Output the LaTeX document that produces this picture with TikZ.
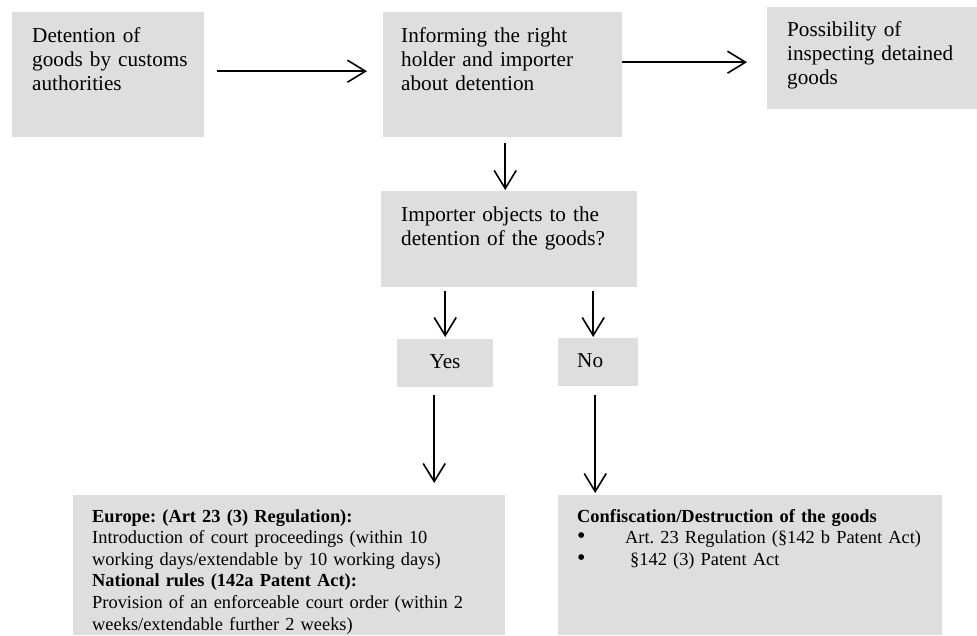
\documentclass[tikz,border=0pt]{standalone}
\usepackage{fontspec}
\setmainfont{Liberation Serif}
\usetikzlibrary{arrows.meta,calc}
\definecolor{boxgray}{RGB}{222,222,222}
\frenchspacing
\newcommand{\bigbul}{{\fontsize{24}{24}\selectfont •}}
\tikzset{
  box/.style={fill=boxgray, draw=none, inner sep=0pt, anchor=north west},
  bigtxt/.style={inner sep=0pt, anchor=base west, align=left, text width=300pt,
    font=\fontsize{21.2}{24.4}\selectfont\frenchspacing},
  smalltxt/.style={inner sep=0pt, anchor=base west, align=left, text width=420pt,
    font=\fontsize{18.4}{21.6}\selectfont\frenchspacing},
  arr/.style={line width=1.6pt, -{Straight Barb[length=18pt,width=22pt,line width=1.6pt]}}
}
\begin{document}
\begin{tikzpicture}[x=1pt,y=-1pt]
\clip (0,0) rectangle (977,635);
\fill[white] (0,0) rectangle (977,635);
% boxes
\node[box, minimum width=192pt, minimum height=125pt] (b1) at (12,12) {};
\node[box, minimum width=239pt, minimum height=125pt] (b2) at (383,12) {};
\node[box, minimum width=210pt, minimum height=102pt] (b3) at (767,7) {};
\node[box, minimum width=256pt, minimum height=96pt] (b4) at (381,191) {};
\node[box, minimum width=96pt, minimum height=48pt] (yes) at (397,339) {};
\node[box, minimum width=80pt, minimum height=48pt] (no) at (558,338) {};
\node[box, minimum width=432pt, minimum height=140pt] (eu) at (73,495) {};
\node[box, minimum width=384pt, minimum height=140pt] (conf) at (558,495) {};
% texts
\node[bigtxt] (t1) at (32,42) {Detention of\\goods by customs\\authorities};
\node[bigtxt] (t2) at (401,42) {Informing the right\\holder and importer\\about detention};
\node[bigtxt] (t3) at (787,36) {Possibility of\\inspecting detained\\goods};
\node[bigtxt] (t4) at (401,221) {Importer objects to the\\detention of the goods?};
\node[inner sep=0pt, anchor=base, font=\fontsize{21.2}{24.4}\selectfont] (tyes) at (445,368) {Yes};
\node[inner sep=0pt, anchor=base west, font=\fontsize{21.2}{24.4}\selectfont] (tno) at (577,367) {No};
\node[smalltxt] (teu) at (92,522) {\textbf{Europe: (Art 23 (3) Regulation):}\\
Introduction of court proceedings (within 10\\
working days/extendable by 10 working days)\\
\textbf{National rules (142a Patent Act):}\\
Provision of an enforceable court order (within 2\\
weeks/extendable further 2 weeks)};
\node[smalltxt] (tconf) at (577,522) {\textbf{Confiscation/Destruction of the goods}\\
\makebox[48pt][l]{\bigbul}Art. 23 Regulation (§142 b Patent Act)\\
\makebox[53pt][l]{\bigbul}§142 (3) Patent Act};
% arrows
\draw[arr, shorten <=13pt, shorten >=16pt] ([yshift=3.5pt]b1.east) -- ([yshift=3.5pt]b2.west);
\draw[arr, shorten >=20pt] ([yshift=12.5pt]b2.east) -- ([yshift=12.5pt]b2.east -| b3.west);
\draw[arr, shorten <=6pt, shorten >=1pt] ([xshift=2.5pt]b2.south) -- ([xshift=2.5pt]b2.south |- b4.north);
\draw[arr, shorten <=4pt, shorten >=2pt] (yes.north |- b4.south) -- (yes.north);
\draw[arr, shorten <=4pt, shorten >=1pt] ([xshift=-5pt]no.north |- b4.south) -- ([xshift=-5pt]no.north);
\draw[arr, shorten <=8pt, shorten >=12pt] ([xshift=-11pt]yes.south) -- ([xshift=-11pt]yes.south |- eu.north);
\draw[arr, shorten <=9pt, shorten >=2pt] ([xshift=-3pt]no.south) -- ([xshift=-3pt]no.south |- conf.north);
\end{tikzpicture}
\end{document}
